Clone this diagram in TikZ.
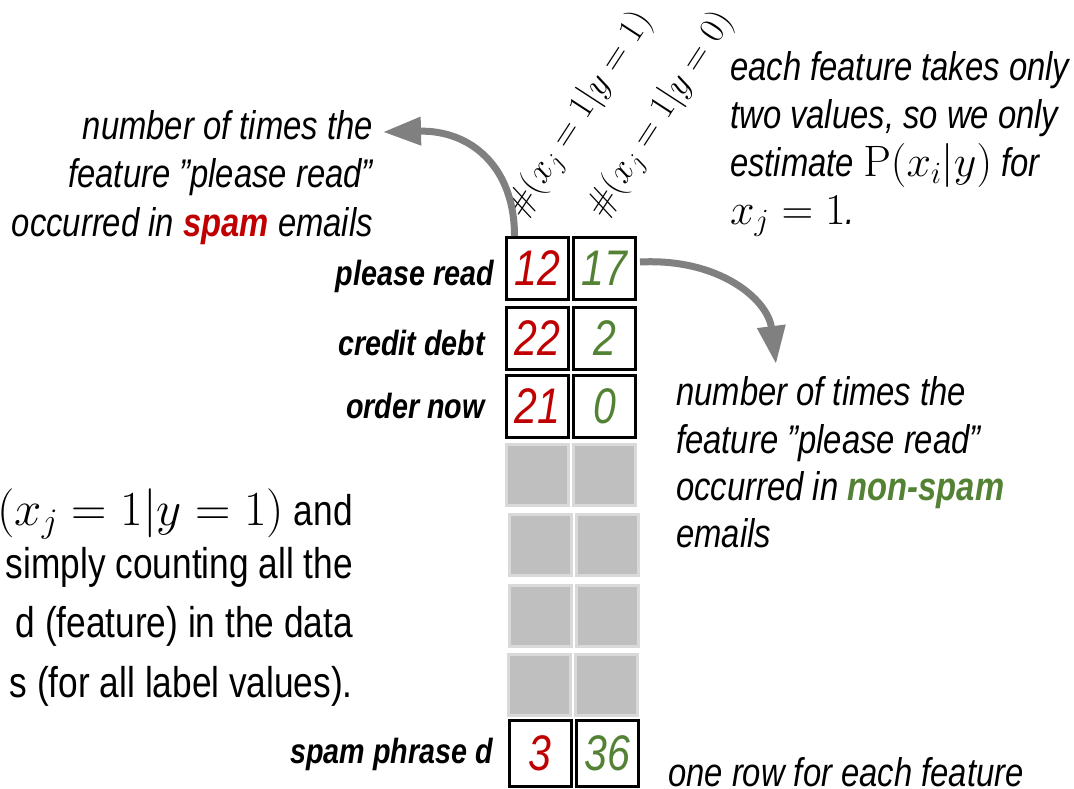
\documentclass[tikz,border=0pt]{standalone}
\usepackage{fix-cm}
\usepackage[no-math]{fontspec}
\setmainfont{Liberation Sans}[FakeStretch=0.82]
\usetikzlibrary{arrows.meta}
\definecolor{spamred}{HTML}{C00000}
\definecolor{hamgreen}{HTML}{548235}
\definecolor{cellgray}{HTML}{BFBFBF}
\definecolor{cellrim}{HTML}{D9D9D9}
\definecolor{arrowgray}{HTML}{808080}
\begin{document}
\begin{tikzpicture}[x=1pt,y=-1pt,
  cell/.style={draw=black,line width=3pt,minimum width=62pt,minimum height=62pt,inner sep=0pt,fill=white,
    font=\fontsize{50}{50}\selectfont\itshape},
  emptycell/.style={draw=cellrim,fill=cellgray,line width=3pt,minimum width=62pt,minimum height=61pt,inner sep=0pt},
  feat/.style={font=\fontsize{35}{40}\selectfont\bfseries\itshape,anchor=base east,inner sep=0pt},
  note/.style={font=\fontsize{40}{48}\selectfont\itshape,inner sep=0pt},
  body/.style={font=\fontsize{43}{59}\selectfont,anchor=base east,inner sep=0pt},
  rotlab/.style={font=\fontsize{36}{40}\selectfont,rotate=57,anchor=base west,inner sep=0pt},
  bigarrow/.style={draw=arrowgray,line width=7pt,-{Triangle[length=38pt,width=27pt]}}
]
\useasboundingbox (0,0) rectangle (1074,789);
\clip (0,0) rectangle (1074,789);

% table cells
\node[cell,text=spamred]  (c11) at (537.5,268.5) {12};
\node[cell,text=hamgreen] (c12) at (604.5,268.5) {17};
\node[cell,text=spamred]  (c21) at (537.5,338) {22};
\node[cell,text=hamgreen] (c22) at (604.5,338) {2};
\node[cell,text=spamred]  (c31) at (537.5,406) {21};
\node[cell,text=hamgreen] (c32) at (604.5,406) {0};
\node[emptycell] (g11) at (537.5,475) {};
\node[emptycell] (g12) at (604.5,475) {};
\node[emptycell] (g21) at (540.5,545) {};
\node[emptycell] (g22) at (607,545) {};
\node[emptycell] (g31) at (540.5,616) {};
\node[emptycell] (g32) at (607,616) {};
\node[emptycell] (g41) at (539.5,684.5) {};
\node[emptycell] (g42) at (606,684.5) {};
\node[cell,text=spamred,minimum height=66pt]  (c41) at (540,753.5) {3};
\node[cell,text=hamgreen,minimum height=66pt] (c42) at (607.5,753.5) {36};

% feature labels
\node[feat] (f1) at (494,285) {please read};
\node[feat] (f2) at (485,355) {credit debt};
\node[feat] (f3) at (485,418) {order now};
\node[feat] (f4) at (493,763) {spam phrase d};

% rotated column headers
\node[rotlab] (h1) at (522,220) {$\#(x_j = 1|y = 1)$};
\node[rotlab] (h2) at (603,220) {$\#(x_j = 1|y = 0)$};

% top-left note
\node[note,anchor=base east] (tl1) at (373,140) {number of times the};
\node[note,anchor=base east] (tl2) at (373,188) {feature ”please read”};
\node[note,anchor=base east] (tl3) at (373,236) {occurred in {\bfseries\color{spamred}spam} emails};

% top-right note
\node[note,anchor=base west] (tr1) at (730,81) {each feature takes only};
\node[note,anchor=base west] (tr2) at (730,129) {two values, so we only};
\node[note,anchor=base west] (tr3) at (730,177) {estimate {\fontsize{44}{48}\selectfont$\mathrm{P}(x_i|y)$} for};
\node[note,anchor=base west] (tr4) at (730,224) {{\fontsize{44}{48}\selectfont$x_j = 1$}.};

% right note
\node[note,anchor=base west] (rn1) at (676,405) {number of times the};
\node[note,anchor=base west] (rn2) at (676,453) {feature ”please read”};
\node[note,anchor=base west] (rn3) at (676,500) {occurred in {\bfseries\color{hamgreen}non-spam}};
\node[note,anchor=base west] (rn4) at (676,547) {emails};

% bottom-left body text (cut at the left edge)
\node[body] (b1) at (353,525) {{\fontsize{49}{59}\selectfont$(x_j = 1|y = 1)$} and};
\node[body] (b2) at (353,578) {simply counting all the};
\node[body] (b3) at (353,637) {d (feature) in the data};
\node[body] (b4) at (353,697) {s (for all label values).};

% bottom-right note
\node[note,anchor=base west] (br) at (668,786) {one row for each feature};

% arrows
\coordinate (ltip) at (383,132);
\coordinate (rtip) at (776,364);
\draw[bigarrow] ([xshift=-23pt]c11.north) .. controls +(0,-70) and (470,130) .. (ltip);
\draw[bigarrow] ([xshift=3pt,yshift=6.5pt]c12.east) .. controls (720,258) and (768,300) .. (rtip);
\end{tikzpicture}
\end{document}
